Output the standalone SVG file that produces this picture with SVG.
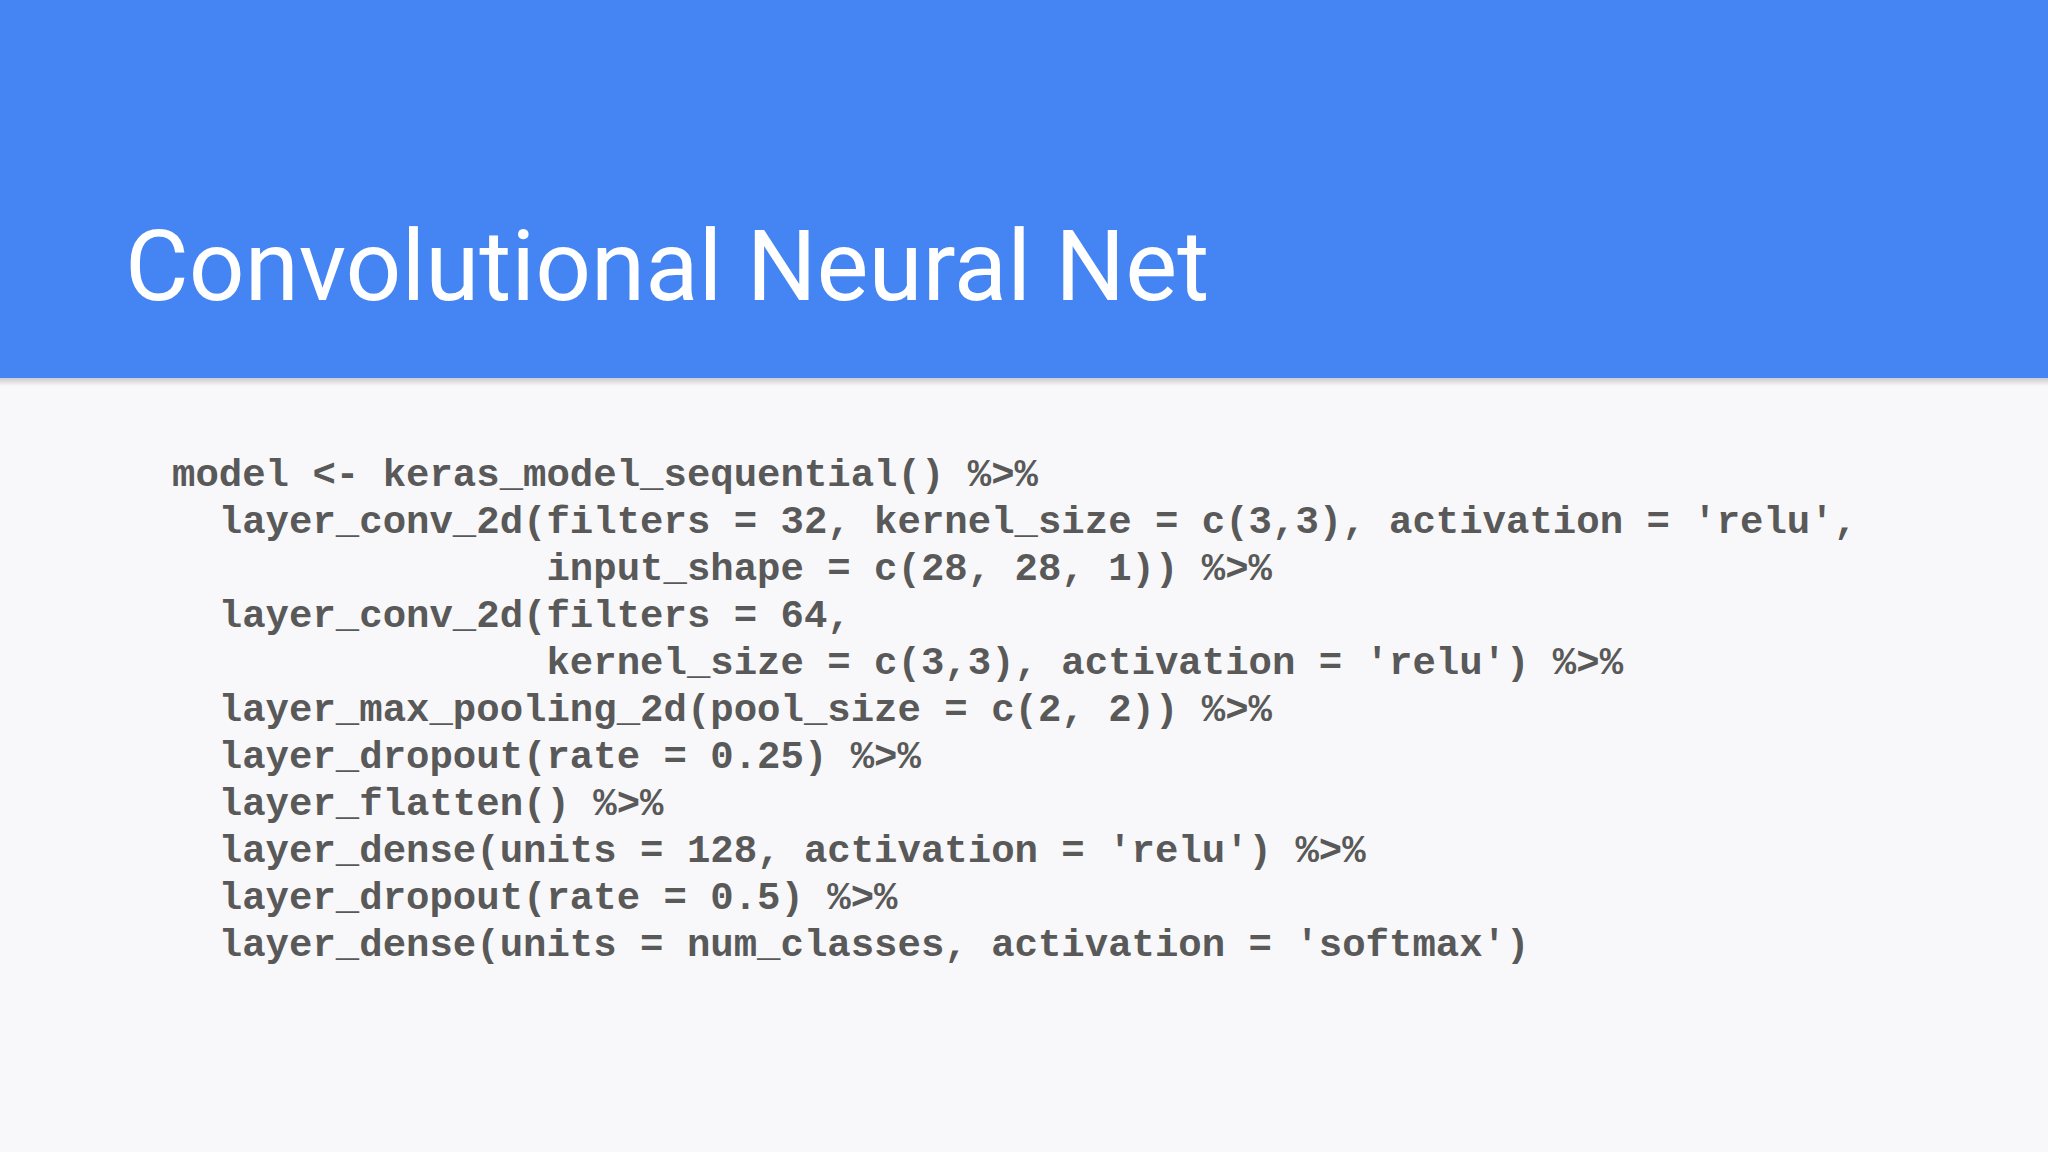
<svg xmlns="http://www.w3.org/2000/svg" width="2048" height="1152" viewBox="0 0 2048 1152">
<style>
.code{font-family:"Liberation Mono","DejaVu Sans Mono",monospace;font-weight:bold;font-size:39px;fill:#595959;white-space:pre}
</style>
<defs><linearGradient id="sh" x1="0" y1="0" x2="0" y2="1"><stop offset="0" stop-color="#000" stop-opacity="0.18"/><stop offset="1" stop-color="#000" stop-opacity="0"/></linearGradient></defs>
<rect width="2048" height="1152" fill="#f8f8fa"/>
<rect width="2048" height="378" fill="#4584f3"/>
<rect y="378" width="2048" height="8" fill="url(#sh)"/>
<g id="title"><text x="125" y="300" font-family="Roboto,'Liberation Sans',sans-serif" font-size="98" fill="#ffffff">Convolutional Neural Net</text></g>
<g id="code" class="code" xml:space="preserve">
<text class="code" x="172" y="486">model &lt;- keras_model_sequential() %&gt;%</text>
<text class="code" x="172" y="533">  layer_conv_2d(filters = 32, kernel_size = c(3,3), activation = 'relu',</text>
<text class="code" x="172" y="580">                input_shape = c(28, 28, 1)) %&gt;%</text>
<text class="code" x="172" y="627">  layer_conv_2d(filters = 64,</text>
<text class="code" x="172" y="674">                kernel_size = c(3,3), activation = 'relu') %&gt;%</text>
<text class="code" x="172" y="721">  layer_max_pooling_2d(pool_size = c(2, 2)) %&gt;%</text>
<text class="code" x="172" y="768">  layer_dropout(rate = 0.25) %&gt;%</text>
<text class="code" x="172" y="815">  layer_flatten() %&gt;%</text>
<text class="code" x="172" y="862">  layer_dense(units = 128, activation = 'relu') %&gt;%</text>
<text class="code" x="172" y="909">  layer_dropout(rate = 0.5) %&gt;%</text>
<text class="code" x="172" y="956">  layer_dense(units = num_classes, activation = 'softmax')</text>
</g>
</svg>
